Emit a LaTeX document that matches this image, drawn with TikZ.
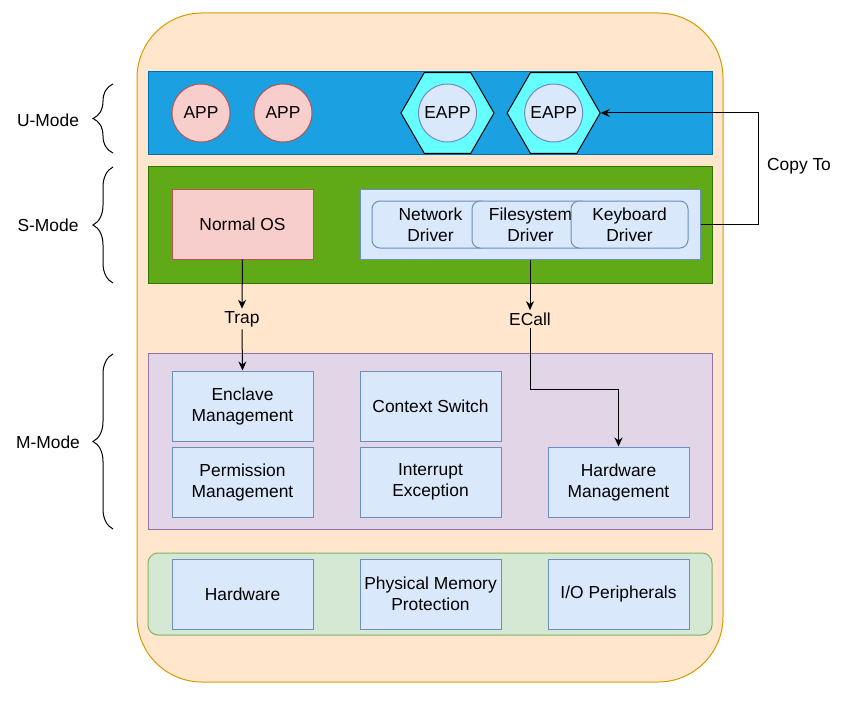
\documentclass[tikz,border=0pt]{standalone}
\usepackage{fontspec}
\setmainfont{Liberation Sans}
\usetikzlibrary{positioning,shapes.geometric,arrows.meta,decorations.pathreplacing}

\definecolor{bodyfill}{HTML}{FFE6CC}
\definecolor{bodyline}{HTML}{D79B00}
\definecolor{ufill}{HTML}{1BA1E2}
\definecolor{uline}{HTML}{006EAF}
\definecolor{sfill}{HTML}{60A917}
\definecolor{sline}{HTML}{2D7600}
\definecolor{mfill}{HTML}{E1D5E7}
\definecolor{mline}{HTML}{9673A6}
\definecolor{hwfill}{HTML}{D5E8D4}
\definecolor{hwline}{HTML}{82B366}
\definecolor{bluefill}{HTML}{DAE8FC}
\definecolor{blueline}{HTML}{6C8EBF}
\definecolor{redfill}{HTML}{F8CECC}
\definecolor{redline}{HTML}{B85450}
\definecolor{hexfill}{HTML}{66FFFF}

\begin{document}
\begin{tikzpicture}[x=1pt, y=-1pt, line width=1pt,
  font=\fontsize{17.4}{21}\selectfont,
  layer/.style={rectangle, minimum width=564pt, inner sep=0pt},
  box/.style={rectangle, draw=blueline, fill=bluefill, minimum width=141pt, minimum height=70pt, align=center, inner sep=0pt},
  drv/.style={rectangle, rounded corners=8pt, draw=blueline, fill=bluefill, minimum width=117pt, minimum height=47pt, align=center, inner sep=0pt},
  app/.style={circle, draw=redline, fill=redfill, minimum size=58pt, inner sep=0pt},
  eapp/.style={circle, draw=blueline, fill=bluefill, minimum size=58pt, inner sep=0pt},
  hex/.style={regular polygon, regular polygon sides=6, draw=black, fill=hexfill, minimum size=93pt, inner sep=0pt},
  lbl/.style={inner sep=2pt},
  arr/.style={draw=black, -{Stealth[length=9pt,width=8pt]}},
  modebrace/.style={draw=black, decorate, decoration={brace, amplitude=20pt}}]
\useasboundingbox (0,0) rectangle (851,706);

\node[rectangle, rounded corners=65pt, draw=bodyline, fill=bodyfill, minimum width=586pt, minimum height=669pt] (body) at (430,347.5) {};

\node[layer, draw=uline, fill=ufill, minimum height=82pt] (umode) at (430,113) {};
\node[layer, draw=sline, fill=sfill, minimum height=117pt] (smode) at (430,224.5) {};
\node[layer, draw=mline, fill=mfill, minimum height=176pt] (mmode) at (430,441) {};
\node[layer, rounded corners=10pt, draw=hwline, fill=hwfill, minimum height=82pt] (hwlayer) at (430,594) {};

\node[app] (app1) at (201,113) {APP};
\node[app] (app2) [right=23pt of app1] {APP};
\node[hex] (hex1) at (447.5,113) {};
\node[hex] (hex2) [right=12pt of hex1] {};
\node[eapp] (eapp1) at (hex1) {EAPP};
\node[eapp] (eapp2) at (hex2) {EAPP};

\node[box, draw=redline, fill=redfill] (os) at (242.5,224) {Normal OS};
\node[box, minimum width=340pt] (drivers) at (530,224) {};
\node[drv] (net) at (430.5,224.5) {Network\\Driver};
\node[drv] (fs) at (530.5,224.5) {Filesystem\\Driver};
\node[drv] (kb) at (629.5,224.5) {Keyboard\\Driver};

\node[lbl] (trap) at (242,319) {Trap};
\node[lbl] (ecall) at (530,319) {ECall};
\node[lbl] (copy) at (799,166) {Copy To};

\node[box] (enclave) at (242.5,406) {Enclave\\Management};
\node[box] (ctx) [right=46pt of enclave] {Context Switch};
\node[box] (perm) [below=5pt of enclave] {Permission\\Management};
\node[box] (intr) [below=5pt of ctx] {Interrupt\\Exception};
\node[box] (hwm) [right=46pt of intr] {Hardware\\Management};

\node[box] (hw) at (242.5,594) {Hardware};
\node[box] (pmp) [right=46pt of hw] {Physical Memory\\Protection};
\node[box] (io) [right=46pt of pmp] {I/O Peripherals};

\coordinate (turn) at (530,389);
\coordinate (cp) at (758,224);

\draw[arr] (os.south) -- (trap.north);
\draw[arr] (trap.south) -- (enclave.north);
\draw[arr] (drivers.south) -- (ecall.north);
\draw[arr] (ecall.south) -- (turn) -| (hwm.north);
\draw[arr] (drivers.east) -- (cp) |- (hex2.east);

\draw[modebrace] (113,153) -- (113,84);
\draw[modebrace] (113,283) -- (113,167);
\draw[modebrace] (113,529) -- (113,354);
\node (ulbl) at (48,120) {U-Mode};
\node (slbl) at (48,225) {S-Mode};
\node (mlbl) at (48,442) {M-Mode};
\end{tikzpicture}
\end{document}
